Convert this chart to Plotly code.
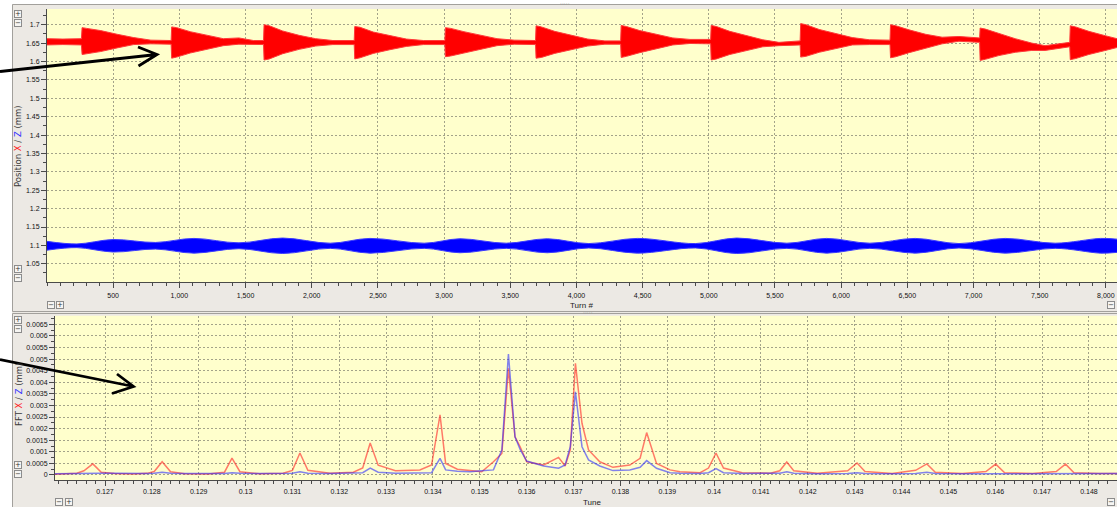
import plotly.graph_objects as go

W, H = 1117, 507

# ---------------- Turn-by-turn position (envelope of the oscillation) ----------------
turn_x = [0, 120, 260,
          265, 300, 405, 530, 655, 785, 900, 938,
          942, 980, 1082, 1207, 1332, 1450, 1560, 1636,
          1640, 1680, 1780, 1905, 2030, 2160, 2321,
          2325, 2365, 2465, 2590, 2715, 2845, 3006,
          3010, 3050, 3150, 3275, 3400, 3530, 3691,
          3695, 3735, 3835, 3960, 4085, 4215, 4334,
          4338, 4378, 4478, 4603, 4728, 4858, 5014,
          5018, 5058, 5158, 5283, 5408, 5530, 5690,
          5694, 5734, 5834, 5959, 6084, 6214, 6369,
          6373, 6413, 6513, 6638, 6763, 6890, 7046,
          7050, 7090, 7190, 7315, 7440, 7540, 7727,
          7731, 7771, 7871, 7996, 8084]
x_lo = [1.645, 1.646, 1.645,
        1.619, 1.621, 1.627, 1.637, 1.646, 1.648, 1.647, 1.647,
        1.609, 1.612, 1.623, 1.633, 1.643, 1.647, 1.647, 1.646,
        1.604, 1.607, 1.621, 1.633, 1.642, 1.646, 1.646,
        1.607, 1.610, 1.622, 1.632, 1.641, 1.646, 1.646,
        1.613, 1.615, 1.623, 1.633, 1.643, 1.647, 1.646,
        1.609, 1.611, 1.622, 1.633, 1.642, 1.647, 1.647,
        1.611, 1.614, 1.624, 1.635, 1.645, 1.649, 1.648,
        1.604, 1.607, 1.619, 1.630, 1.640, 1.643, 1.645,
        1.612, 1.614, 1.625, 1.636, 1.645, 1.646, 1.646,
        1.610, 1.613, 1.624, 1.636, 1.648, 1.655, 1.652,
        1.603, 1.606, 1.616, 1.625, 1.630, 1.630, 1.640,
        1.605, 1.608, 1.619, 1.630, 1.638]
x_hi = [1.662, 1.661, 1.662,
        1.692, 1.690, 1.684, 1.674, 1.665, 1.658, 1.657, 1.657,
        1.694, 1.692, 1.681, 1.671, 1.662, 1.664, 1.657, 1.657,
        1.700, 1.697, 1.683, 1.671, 1.662, 1.657, 1.657,
        1.695, 1.693, 1.680, 1.670, 1.661, 1.657, 1.657,
        1.692, 1.690, 1.681, 1.671, 1.662, 1.658, 1.657,
        1.697, 1.694, 1.682, 1.671, 1.661, 1.656, 1.656,
        1.698, 1.695, 1.684, 1.673, 1.664, 1.660, 1.660,
        1.698, 1.695, 1.682, 1.670, 1.659, 1.652, 1.656,
        1.703, 1.700, 1.687, 1.675, 1.665, 1.659, 1.658,
        1.700, 1.697, 1.686, 1.674, 1.666, 1.668, 1.664,
        1.691, 1.688, 1.676, 1.662, 1.650, 1.643, 1.652,
        1.697, 1.694, 1.682, 1.670, 1.662]

turn_z = [0, 226, 500, 820, 1110, 1450, 1780, 2140, 2440, 2850, 3120, 3470, 3780,
          4093, 4460, 4900, 5210, 5590, 5890, 6217, 6560, 6890, 7240, 7617, 7960, 8084]
z_lo = [1.087, 1.094, 1.082, 1.090, 1.079, 1.091, 1.078, 1.092, 1.079, 1.092, 1.080, 1.092, 1.080,
        1.093, 1.079, 1.093, 1.078, 1.092, 1.079, 1.092, 1.079, 1.093, 1.079, 1.092, 1.079, 1.081]
z_hi = [1.111, 1.104, 1.116, 1.108, 1.119, 1.107, 1.120, 1.106, 1.119, 1.106, 1.118, 1.106, 1.118,
        1.105, 1.119, 1.105, 1.120, 1.106, 1.119, 1.106, 1.119, 1.105, 1.119, 1.106, 1.119, 1.117]

# ---------------- FFT amplitude vs tune ----------------
tune = [0.12590, 0.12615, 0.12640, 0.12655, 0.12674, 0.12692, 0.12720, 0.12760,
        0.12790, 0.12805, 0.12822, 0.12840, 0.12870, 0.12920, 0.12955, 0.12971,
        0.12988, 0.13030, 0.13080, 0.13100, 0.13116, 0.13133, 0.13180, 0.13230,
        0.13250, 0.13266, 0.13283, 0.13320, 0.13372, 0.13397, 0.13415, 0.13427,
        0.13452, 0.13479, 0.13504, 0.13529, 0.13547, 0.13561, 0.13575, 0.13586,
        0.13600, 0.13636, 0.13668, 0.13682, 0.13693, 0.13704, 0.13718, 0.13732,
        0.13756, 0.13784, 0.13820, 0.13842, 0.13856, 0.13877, 0.13906, 0.13927,
        0.13970, 0.13988, 0.14004, 0.14020, 0.14060, 0.14120, 0.14140, 0.14155,
        0.14170, 0.14220, 0.14285, 0.14305, 0.14322, 0.14380, 0.14430, 0.14454,
        0.14472, 0.14530, 0.14580, 0.14601, 0.14620, 0.14680, 0.14730, 0.14750,
        0.14768, 0.14820, 0.14860]
fft_x = [0.00003, 0.00006, 0.00008, 0.00018, 0.00048, 0.00012, 0.00006, 0.00004,
         0.00007, 0.00015, 0.00057, 0.00014, 0.00005, 0.00004, 0.00012, 0.00073,
         0.00014, 0.00005, 0.00008, 0.00020, 0.00095, 0.00020, 0.00008, 0.00012,
         0.00030, 0.00138, 0.00042, 0.00018, 0.00022, 0.00043, 0.00259, 0.00050,
         0.00025, 0.00019, 0.00014, 0.00057, 0.00093, 0.00460, 0.00165, 0.00122,
         0.00057, 0.00043, 0.00076, 0.00039, 0.00108, 0.00482, 0.00223, 0.00108,
         0.00057, 0.00033, 0.00043, 0.00072, 0.00183, 0.00050, 0.00022, 0.00014,
         0.00010, 0.00030, 0.00095, 0.00030, 0.00010, 0.00008, 0.00018, 0.00056,
         0.00018, 0.00008, 0.00018, 0.00052, 0.00015, 0.00006, 0.00020, 0.00048,
         0.00012, 0.00006, 0.00015, 0.00047, 0.00010, 0.00006, 0.00015, 0.00047,
         0.00010, 0.00006, 0.00006]
fft_z = [0.00005, 0.00006, 0.00007, 0.00008, 0.00010, 0.00008, 0.00008, 0.00006,
         0.00006, 0.00008, 0.00012, 0.00008, 0.00006, 0.00006, 0.00006, 0.00010,
         0.00007, 0.00006, 0.00006, 0.00008, 0.00014, 0.00008, 0.00006, 0.00008,
         0.00010, 0.00030, 0.00012, 0.00008, 0.00010, 0.00010, 0.00072, 0.00022,
         0.00016, 0.00014, 0.00018, 0.00022, 0.00108, 0.00522, 0.00165, 0.00110,
         0.00060, 0.00039, 0.00029, 0.00043, 0.00122, 0.00359, 0.00122, 0.00065,
         0.00039, 0.00019, 0.00022, 0.00033, 0.00062, 0.00029, 0.00010, 0.00007,
         0.00006, 0.00010, 0.00028, 0.00010, 0.00006, 0.00006, 0.00008, 0.00014,
         0.00008, 0.00005, 0.00006, 0.00010, 0.00006, 0.00005, 0.00006, 0.00012,
         0.00006, 0.00005, 0.00005, 0.00008, 0.00005, 0.00006, 0.00006, 0.00008,
         0.00006, 0.00005, 0.00006]

# ---------------- Tick labels ----------------
turn_ticks = [500, 1000, 1500, 2000, 2500, 3000, 3500, 4000, 4500, 5000, 5500, 6000, 6500, 7000, 7500, 8000]
turn_labels = ["500", "1,000", "1,500", "2,000", "2,500", "3,000", "3,500", "4,000",
               "4,500", "5,000", "5,500", "6,000", "6,500", "7,000", "7,500", "8,000"]
pos_ticks = [1.05, 1.1, 1.15, 1.2, 1.25, 1.3, 1.35, 1.4, 1.45, 1.5, 1.55, 1.6, 1.65, 1.7]
pos_labels = ["1.05", "1.1", "1.15", "1.2", "1.25", "1.3", "1.35", "1.4", "1.45", "1.5",
              "1.55", "1.6", "1.65", "1.7"]
tune_ticks = [0.127, 0.128, 0.129, 0.130, 0.131, 0.132, 0.133, 0.134, 0.135, 0.136, 0.137,
              0.138, 0.139, 0.140, 0.141, 0.142, 0.143, 0.144, 0.145, 0.146, 0.147, 0.148]
tune_labels = ["0.127", "0.128", "0.129", "0.13", "0.131", "0.132", "0.133", "0.134", "0.135",
               "0.136", "0.137", "0.138", "0.139", "0.14", "0.141", "0.142", "0.143", "0.144",
               "0.145", "0.146", "0.147", "0.148"]
fft_ticks = [0, 0.0005, 0.001, 0.0015, 0.002, 0.0025, 0.003, 0.0035, 0.004, 0.0045, 0.005,
             0.0055, 0.006, 0.0065]
fft_labels = ["0", "0.0005", "0.001", "0.0015", "0.002", "0.0025", "0.003", "0.0035", "0.004",
              "0.0045", "0.005", "0.0055", "0.006", "0.0065"]

RED = "#FF0000"
BLUE = "#0000FF"
PANEL = "#ECE9E4"
PLOTBG = "#FFFFCC"
GRID = "#A3A389"
AXIS = "#4A4A4A"
FONT = dict(family="Liberation Sans, Arial, sans-serif", size=7, color="#111111")
XTITLE_FONT = dict(family="Liberation Sans, Arial, sans-serif", size=8, color="#222222")
YTITLE_FONT = dict(family="DejaVu Sans, Verdana, sans-serif", size=8.5, color="#3A3A3A")


def px(x, y):
    """pixel position -> paper coordinates (margins are zero)"""
    return x / W, 1 - y / H


fig = go.Figure()

# position X: filled band between lower and upper envelope
fig.add_trace(go.Scatter(x=turn_x, y=x_lo, mode="lines", line=dict(color="#FF3A3A", width=1),
                         xaxis="x", yaxis="y", hoverinfo="skip"))
fig.add_trace(go.Scatter(x=turn_x, y=x_hi, mode="lines", line=dict(color="#FF3A3A", width=1),
                         fill="tonexty", fillcolor=RED, xaxis="x", yaxis="y", hoverinfo="skip"))
# position Z
fig.add_trace(go.Scatter(x=turn_z, y=z_lo, mode="lines", line=dict(color="#3A3AFF", width=1, shape="spline"),
                         xaxis="x", yaxis="y", hoverinfo="skip"))
fig.add_trace(go.Scatter(x=turn_z, y=z_hi, mode="lines", line=dict(color="#3A3AFF", width=1, shape="spline"),
                         fill="tonexty", fillcolor=BLUE, xaxis="x", yaxis="y", hoverinfo="skip"))

# FFT spectra
fig.add_trace(go.Scatter(x=tune, y=fft_x, mode="lines", line=dict(color="rgba(255,40,40,0.62)", width=1.5),
                         xaxis="x2", yaxis="y2"))
fig.add_trace(go.Scatter(x=tune, y=fft_z, mode="lines", line=dict(color="rgba(40,40,255,0.58)", width=1.5),
                         xaxis="x2", yaxis="y2"))

common = dict(
    showline=True, linecolor=AXIS, linewidth=1,
    ticks="outside", ticklen=5, tickcolor=AXIS, tickwidth=1,
    showgrid=True, gridcolor=GRID, gridwidth=1, griddash="2px,2px",
    zeroline=False, tickfont=FONT, fixedrange=True,
)

fig.update_layout(
    width=W, height=H,
    margin=dict(l=0, r=0, t=0, b=0),
    paper_bgcolor=PANEL, plot_bgcolor=PLOTBG,
    showlegend=False,
    xaxis=dict(domain=[47 / W, 1], range=[0, 8084], anchor="y",
               tickvals=turn_ticks, ticktext=turn_labels, ticklabelstandoff=2,
               minor=dict(ticks="outside", ticklen=3, dtick=100, tick0=0, tickcolor=AXIS, showgrid=False),
               **common),
    yaxis=dict(domain=[1 - 282 / H, 1 - 9 / H], range=[1.0005, 1.7427], anchor="x",
               tickvals=pos_ticks, ticktext=pos_labels,
               minor=dict(ticks="outside", ticklen=3, dtick=0.025, tick0=1.0, tickcolor=AXIS, showgrid=False),
               **common),
    xaxis2=dict(domain=[55 / W, 1], range=[0.125933, 0.148598], anchor="y2",
                tickvals=tune_ticks, ticktext=tune_labels, ticklabelstandoff=0,
                minor=dict(ticks="outside", ticklen=3, dtick=0.0002, tick0=0.126, tickcolor=AXIS, showgrid=False),
                **common),
    yaxis2=dict(domain=[1 - 480 / H, 1 - 315.7 / H], range=[-0.000216, 0.006871], anchor="x2",
                tickvals=fft_ticks, ticktext=fft_labels,
                minor=dict(ticks="outside", ticklen=3, dtick=0.00025, tick0=0, tickcolor=AXIS, showgrid=False),
                **common),
)

shapes = []
# white surround on the left and top
shapes.append(dict(type="rect", xref="paper", yref="paper", x0=0, x1=12 / W, y0=0, y1=1,
                   fillcolor="white", line=dict(width=0), layer="below"))
shapes.append(dict(type="rect", xref="paper", yref="paper", x0=0, x1=1, y0=1 - 4 / H, y1=1,
                   fillcolor="white", line=dict(width=0), layer="below"))
# panel frames
for (y0, y1) in [(4.5, 311.5), (313.5, 520)]:
    x0p, y0p = px(12.5, y0)
    x1p, y1p = px(1140, y1)
    shapes.append(dict(type="rect", xref="paper", yref="paper", x0=x0p, x1=x1p, y0=y1p, y1=y0p,
                       fillcolor="rgba(0,0,0,0)", line=dict(color="#A2A09C", width=1), layer="below"))


def arrow(p0, tip, h1, h2):
    a0, t = px(*p0), px(*tip)
    a, b = px(*h1), px(*h2)
    path = "M {} {} L {} {}".format(a0[0], a0[1], t[0], t[1])
    path += " M {} {} L {} {} L {} {}".format(a[0], a[1], t[0], t[1], b[0], b[1])
    return dict(type="path", xref="paper", yref="paper", path=path,
                line=dict(color="black", width=2.8), layer="above")


shapes.append(arrow((0, 71.5), (157, 54.5), (138, 47), (138.5, 66)))
shapes.append(arrow((0, 359.5), (133.5, 386.5), (117, 374), (112, 393.5)))
fig.update_layout(shapes=shapes)

ann = []


def label(cx, cy, text, font, **kw):
    x, y = px(cx, cy)
    ann.append(dict(x=x, y=y, xref="paper", yref="paper", xanchor="center", yanchor="middle",
                    text=text, showarrow=False, font=font, **kw))


# axis titles
label(581, 305, "Turn #", XTITLE_FONT)
label(592, 502, "Tune", XTITLE_FONT)
label(18, 146, "Position <span style='color:#FF2020'>X</span> / "
               "<span style='color:#3030FF'>Z</span> (mm)", YTITLE_FONT, textangle=-90, borderpad=0)
label(19, 394, "FFT <span style='color:#FF2020'>X</span> / "
               "<span style='color:#3030FF'>Z</span> (mm)", YTITLE_FONT, textangle=-90, borderpad=0)

# zoom buttons
buttons = [(18, 13.5, "+"), (18, 23, "−"), (17.5, 268.5, "+"), (18, 278, "−"),
           (51, 305, "−"), (60, 305, "+"), (1111, 305, "−"),
           (18, 320, "+"), (18, 329, "−"), (18, 465, "+"), (18, 474, "−"),
           (59.5, 502, "−"), (68.5, 502, "+"), (1111, 502, "−")]
for bx, by, s in buttons:
    label(bx, by, s, dict(family="DejaVu Sans", size=7, color="#333333"),
          width=6, height=6, borderwidth=1, bordercolor="#8C8C8C", bgcolor="#F6F5F2", borderpad=0)

# splitter grips
for gx, gy in [(565, 3), (588, 312)]:
    label(gx, gy, "·····", dict(family="DejaVu Sans", size=6, color="#8A8A8A"))
fig.update_layout(annotations=ann)

fig.write_html("out.html")
